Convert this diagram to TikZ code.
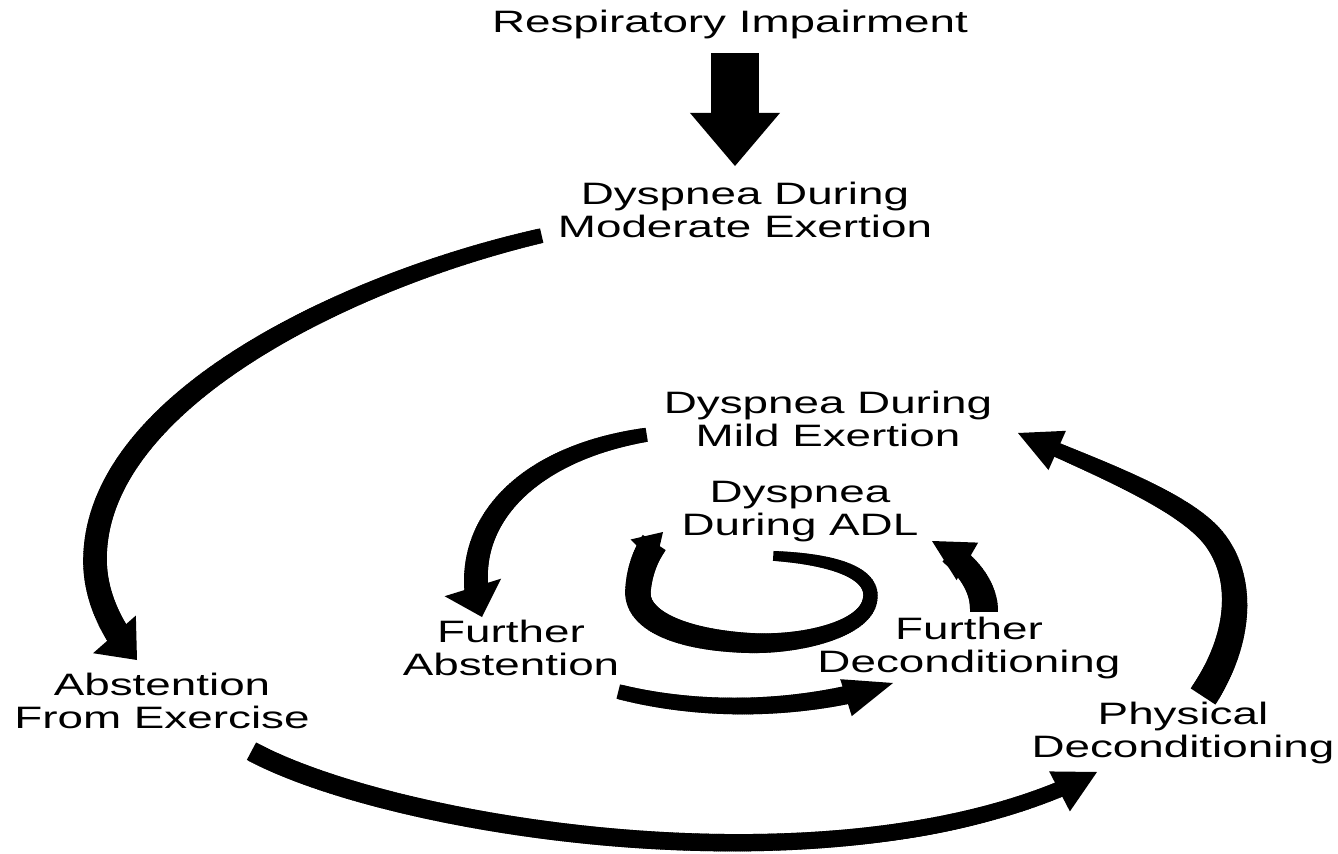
\documentclass[tikz,border=0pt]{standalone}
\usepackage{fontspec}
\setmainfont{Liberation Sans}[FakeStretch=1.48]
\usetikzlibrary{arrows.meta,decorations.markings}
\tikzset{
  txt/.style={align=center, inner sep=0pt, text=black, font=\fontsize{8.8pt}{9.4pt}\selectfont},
  conn/.style={draw=black, line width=1pt},
  taper/.style n args={3}{
    postaction={decorate, decoration={markings,
      mark=between positions 0 and #3 step 0.6pt with {%
        \pgfmathsetmacro\tapr{#1+(#2-#1)*(\pgfkeysvalueof{/pgf/decoration/mark info/distance from start})/(\pgfdecoratedpathlength)}%
        \fill[black] (-0.5pt,-\tapr pt) rectangle (0.5pt,\tapr pt);}}}},
  bigarrow/.style={draw=black, line width=13.66pt,
    -{Triangle[width=25.6pt,length=15.1pt,line width=0pt]}},
}
\begin{document}
\begin{tikzpicture}[x=0.01cm,y=-0.01cm]
\fill[white] (0,0) rectangle (1338,854);
\useasboundingbox (0,0) rectangle (1338,854);

% texts
\node[txt] (ri)   at (730,24)  {Respiratory Impairment};
\node[txt] (mod)  at (745,210) {Dyspnea During\\Moderate Exertion};
\node[txt] (mild) at (828,419) {Dyspnea During\\Mild Exertion};
\node[txt] (adl)  at (800,512) {Dyspnea\\During ADL};
\node[txt] (fab)  at (511,648) {Further\\Abstention};
\node[txt] (fdc)  at (969,648) {Further\\Deconditioning};
\node[txt] (abs)  at (162,701) {Abstention\\From Exercise};
\node[txt] (phy)  at (1183,733) {Physical\\Deconditioning};

% connector end points
\coordinate (b0) at (735,53);   \coordinate (b1) at (735,166);
\coordinate (a1s) at (540,236); \coordinate (a1e) at (137,660);
\coordinate (a2s) at (253,752); \coordinate (a2e) at (1097,772);
\coordinate (a3s) at (1204,695);\coordinate (a3e) at (1018,433);
\coordinate (a4s) at (645,435); \coordinate (a4e) at (482,617);
\coordinate (a5s) at (620,692); \coordinate (a5e) at (893,683);
\coordinate (a6s) at (984,610); \coordinate (a6e) at (932,541);
\coordinate (a7s) at (775,556); \coordinate (a7e) at (663,532);

% Respiratory Impairment -> Dyspnea During Moderate Exertion
\draw[bigarrow] (b0) -- (b1);

% Moderate -> Abstention From Exercise
\draw[conn, taper={2.1}{3.6}{-6pt}, -{Triangle[width=16.2pt,length=9.7pt,line width=0pt]}]
  (a1s) .. controls (350,280) and (95,400) .. (95,560)
        .. controls (95,600) and (115,635) .. (a1e);

% Abstention -> Physical Deconditioning
\draw[conn, taper={2.8}{2.2}{-8pt}, -{Triangle[width=12.8pt,length=12pt,line width=0pt]}]
  (a2s) .. controls (400,830) and (850,900) .. (a2e);

% Physical Deconditioning -> Mild Exertion
\draw[conn, taper={4.2}{1.8}{-7pt}, -{Triangle[width=12.2pt,length=12.2pt,line width=0pt]}]
  (a3s) .. controls (1240,640) and (1245,580) .. (1215,540)
        .. controls (1185,500) and (1090,465) .. (a3e);

% Mild Exertion -> Further Abstention
\draw[conn, taper={2.0}{3.6}{-5pt}, -{Triangle[width=16.8pt,length=8.8pt,line width=0pt]}]
  (a4s) .. controls (520,455) and (455,530) .. (a4e);

% Further Abstention -> Further Deconditioning
\draw[conn, taper={2.1}{2.7}{-8pt}, -{Triangle[width=11pt,length=14pt,line width=0pt]}]
  (a5s) .. controls (700,712) and (800,712) .. (a5e);

% Further Deconditioning -> ADL
\draw[conn, taper={4.0}{3.0}{-6pt}, -{Triangle[width=12.3pt,length=11.6pt,line width=0pt]}]
  (a6s) .. controls (984,585) and (965,560) .. (a6e);

% inner loop
\draw[conn, taper={1.4}{4.0}{-4pt}, -{Triangle[width=10pt,length=8pt,line width=0pt]}]
  (a7s) .. controls (840,560) and (875,575) .. (870,600)
        .. controls (865,630) and (800,645) .. (750,643)
        .. controls (680,640) and (635,620) .. (638,590)
        .. controls (640,565) and (650,545) .. (a7e);
\end{tikzpicture}
\end{document}
